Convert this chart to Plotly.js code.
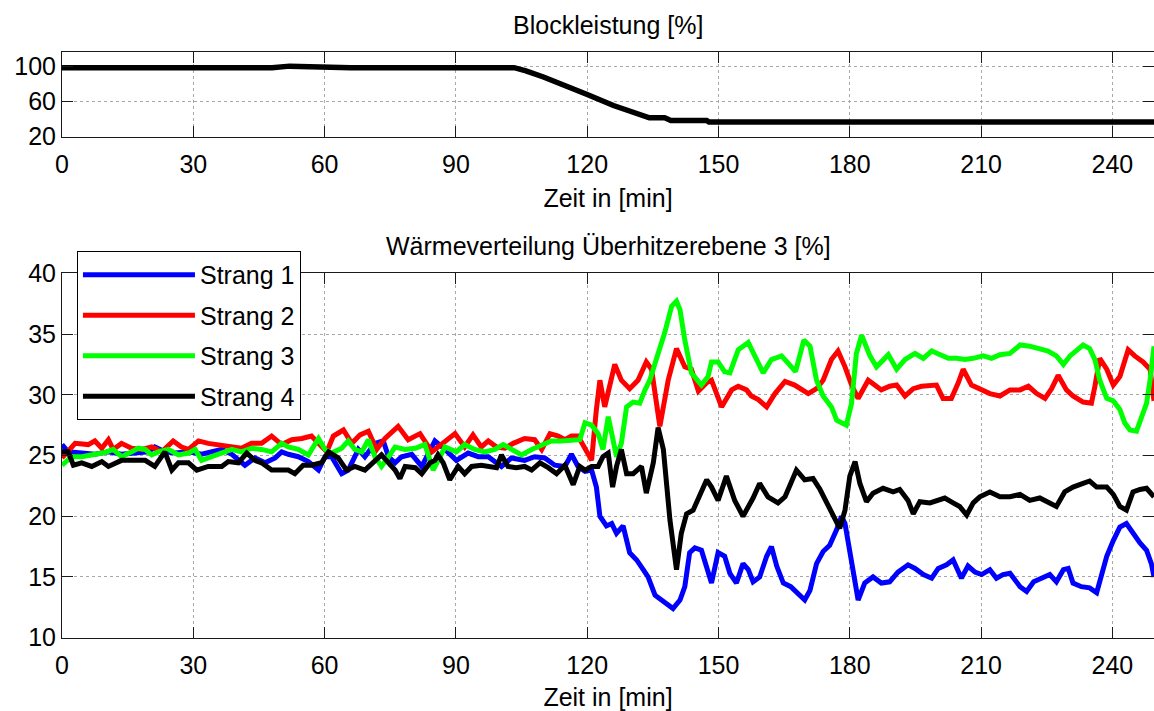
<!DOCTYPE html>
<html>
<head>
<meta charset="utf-8">
<script src="https://cdn.plot.ly/plotly-3.0.1.min.js"></script>
<style>
  html, body { margin: 0; padding: 0; background: #ffffff; }
  #chart { width: 1154px; height: 711px; }
</style>
</head>
<body>
<div id="chart"></div>
<script>
// ---------- Data ----------
const blockTime = [0, 48, 52, 56, 60, 64, 66, 103.3, 106, 110, 115, 120, 126, 130, 134.2, 137.7, 139.1, 147.3, 147.8, 249.5];
const blockLoad = [98.5, 98.5, 100.3, 100.0, 99.4, 99.2, 98.5, 98.5, 95, 88, 78.5, 68, 55.5, 48, 41.5, 41.5, 38.5, 38.5, 36.8, 36.8];

const tickTimes = [0, 30, 60, 90, 120, 150, 180, 210, 240];
const seriesNames = ['Strang 1', 'Strang 2', 'Strang 3', 'Strang 4'];

const s1Time = [0,1.4,4.5,7.5,10.6,13.6,16.7,19.7,21.2,23.5,25.8,28.9,31.9,34.2,36.5,38.8,41.8,44.1,46.4,48.7,50.2,51.7,54.0,56.3,58.6,60.1,61.6,63.9,65.4,67.7,69.2,71.5,73.4,74.6,76.1,77.6,79.9,82.2,85.2,87.5,90.1,92.8,95.1,97.4,100.4,102.7,105.7,108.0,110.3,112.6,114.9,116.4,117.9,119.5,121.0,122.1,122.9,124.4,125.6,126.7,128.2,129.7,131.3,132.8,133.9,135.5,137.0,138.5,139.6,141.2,142.3,143.4,144.6,146.1,147.3,148.4,149.9,151.4,152.6,154.1,155.6,156.8,157.9,159.4,161.0,162.1,163.3,164.8,166.5,168.6,169.7,170.9,172.4,173.9,175.4,177.0,178.1,178.9,180.0,181.2,181.9,183.4,185.3,187.2,189.1,191.0,193.3,194.9,196.8,198.7,200.2,202.1,203.6,205.5,207.0,208.6,210.1,212.0,213.5,215.0,216.6,218.9,220.4,222.0,224.2,225.7,227.2,228.8,229.9,231.0,232.9,234.8,236.4,237.5,238.7,240.2,241.7,243.2,244.7,246.3,247.8,248.9,249.5];
const s1Value = [25.9,25.3,25.2,25.1,25.3,25.1,25.2,25.3,25.7,25.3,25.2,25.3,25.1,25.3,25.5,25.1,24.2,24.8,24.4,24.8,25.3,25.1,24.9,24.5,23.8,24.9,24.9,23.5,23.8,25.5,24.9,26.0,26.2,24.9,24.4,24.9,25.1,24.1,26.2,25.5,24.6,25.2,24.9,24.9,24.1,24.8,24.6,24.9,24.8,24.2,24.1,25.1,24.1,23.7,23.8,22.4,20.0,19.2,19.4,18.6,19.2,17.0,16.4,15.6,15.0,13.5,13.1,12.8,12.4,13.1,14.2,17.0,17.4,17.2,15.6,14.5,17.0,16.7,15.3,14.5,16.1,15.6,14.6,15.0,16.7,17.5,15.9,14.5,14.2,13.5,13.1,13.9,16.1,17.1,17.6,18.9,20.0,19.4,17.2,14.5,13.1,14.5,15.0,14.5,14.6,15.4,16.0,15.7,15.2,14.9,15.7,16.0,16.4,14.9,15.9,15.4,15.2,15.6,14.9,15.2,15.3,14.2,13.8,14.6,15.0,15.2,14.6,15.6,15.7,14.5,14.2,14.1,13.7,15.0,16.7,18.0,19.1,19.4,18.6,17.8,17.2,16.1,15.0];

const s2Time = [0,3.0,6.0,7.5,9.1,10.6,11.7,13.6,15.9,18.2,20.5,22.8,25.4,27.3,28.9,31.2,33.4,35.7,38.0,41.0,43.3,45.6,47.9,50.2,52.5,54.8,57.0,58.6,60.5,62.0,64.3,66.2,68.1,70.0,71.9,73.8,76.8,79.1,81.8,84.5,86.5,89.8,92.0,93.9,95.8,97.4,99.3,101.2,103.1,105.7,108.0,109.6,111.5,113.4,114.9,116.4,117.9,119.5,121.0,122.1,122.9,124.0,126.3,127.8,129.7,131.6,133.5,134.7,136.6,138.5,140.4,142.3,143.8,145.4,147.3,148.4,150.7,153.0,154.5,156.4,157.5,159.1,161.0,162.9,165.2,167.4,169.3,170.5,172.4,173.9,175.8,177.3,178.9,180.4,181.9,183.4,184.2,185.7,187.2,189.1,190.7,192.6,194.5,196.4,198.3,199.8,201.3,203.2,204.8,205.9,207.8,209.7,212.0,214.3,216.6,218.9,220.8,222.7,224.6,226.1,227.6,229.5,231.0,233.3,235.2,236.0,237.1,238.7,240.2,241.7,243.6,245.1,247.0,248.6,249.5];
const s2Value = [24.8,26.0,25.9,26.2,25.6,26.3,25.5,26.0,25.6,25.5,25.7,25.3,26.2,25.7,25.5,26.2,26.0,25.9,25.7,25.6,26.0,26.0,26.6,25.9,26.3,26.4,26.6,26.0,25.3,26.6,27.1,26.0,26.7,27.0,25.5,26.4,27.4,26.3,26.8,25.3,25.9,26.8,25.7,26.7,25.7,26.2,25.7,25.6,26.0,26.4,26.3,25.5,26.8,26.6,26.3,26.6,26.6,25.5,24.6,28.8,31.2,29.0,32.5,31.2,30.5,31.2,32.7,32.1,27.4,31.2,33.8,32.3,32.1,30.3,31.0,31.2,29.0,30.4,30.7,30.4,29.9,29.6,29.0,30.1,31.1,30.8,30.4,30.1,30.5,31.2,32.9,33.6,32.3,30.8,29.7,30.8,31.2,30.8,30.4,30.7,30.8,29.9,30.5,30.7,30.7,30.8,29.7,29.7,31.0,32.1,30.8,30.5,30.1,29.9,30.4,30.4,30.7,30.1,29.7,30.5,31.6,30.4,29.9,29.4,29.3,30.7,33.0,32.1,30.8,31.5,33.7,33.2,32.7,32.1,29.5];

const s3Time = [0,2.2,4.5,6.8,9.8,11.7,13.6,15.9,17.4,19.0,20.5,22.0,24.3,26.6,28.9,30.4,31.9,34.2,36.5,38.8,41.0,43.3,45.6,47.9,50.2,51.7,54.0,56.3,58.6,60.1,61.6,63.9,65.4,66.9,68.5,70.0,71.5,73.0,74.6,76.1,78.4,80.7,82.9,84.8,87.5,90.1,92.0,94.3,96.6,98.9,100.8,102.7,105.0,107.3,109.6,111.8,114.1,116.4,118.3,119.5,121.0,122.5,123.6,124.8,125.9,126.7,127.8,129.0,130.5,132.0,133.2,134.3,135.5,136.6,137.7,139.3,140.4,141.2,142.3,143.8,146.1,147.6,148.4,149.9,151.4,152.6,154.5,156.8,158.7,160.2,162.1,164.4,165.9,167.6,169.5,170.9,172.4,173.9,175.8,177.0,178.1,179.2,180.4,181.5,182.7,184.6,186.1,187.2,188.8,190.7,192.6,194.9,196.8,198.7,200.6,202.5,204.4,206.3,208.2,210.5,212.4,214.3,216.6,218.9,221.1,223.4,225.3,227.2,228.8,230.3,231.8,233.3,234.8,236.0,237.1,238.7,240.2,241.7,242.8,244.0,245.5,246.6,247.8,248.6,249.5];
const s3Value = [24.2,24.9,24.9,25.05,25.25,25.5,24.9,25.3,25.6,25.5,25.05,25.3,25.5,25.05,25.2,25.5,24.6,24.9,25.2,25.5,25.3,25.6,25.5,25.3,26.0,25.7,25.5,25.05,26.4,25.5,25.2,25.6,26.2,25.5,25.3,26.3,24.9,24.1,24.9,25.7,25.5,25.6,25.9,23.8,25.7,25.3,25.9,25.5,25.3,25.5,25.9,25.5,25.05,25.5,25.9,26.2,26.2,26.2,26.3,27.7,27.5,26.8,25.5,28.2,26.0,24.9,26.0,29.0,29.4,29.3,30.4,31.2,32.6,33.7,35.1,37.3,37.7,37.0,34.5,31.8,30.8,31.5,32.7,32.7,31.9,31.8,33.7,34.3,33.0,31.8,32.9,33.2,32.6,31.9,34.5,34.0,31.2,29.9,29.0,27.9,27.7,27.5,29.3,33.4,34.9,33.2,32.3,32.7,33.3,32.1,32.9,33.4,33.0,33.6,33.3,33.0,33.0,32.9,33.0,33.2,33.0,33.3,33.4,34.1,34.0,33.8,33.6,33.2,32.5,33.2,33.7,34.1,33.8,32.9,31.2,29.7,29.5,28.8,27.7,27.1,27.0,28.2,29.3,31.2,34.0];

const s4Time = [0,1.4,2.6,4.5,6.8,9.1,10.6,13.6,16.7,19.0,21.2,23.5,25.1,26.6,28.9,30.8,33.4,36.5,38.0,40.3,42.2,44.1,45.6,47.9,50.2,51.7,53.2,55.1,57.0,59.3,60.9,63.1,65.0,66.9,69.2,71.5,73.0,74.6,76.1,77.2,78.4,80.7,82.2,84.1,85.2,85.9,87.1,88.6,90.5,92.0,93.6,95.8,97.7,99.3,100.4,101.9,103.8,105.7,107.3,109.2,111.1,113.0,114.9,116.8,118.3,119.5,121.0,122.5,123.6,124.8,125.8,126.7,127.8,129.0,130.5,132.4,133.5,135.1,136.2,137.4,138.9,140.4,141.5,142.7,144.2,145.7,147.3,148.4,149.9,151.8,153.7,155.6,157.9,159.4,161.3,163.6,165.2,166.5,167.8,169.7,171.6,173.2,174.7,176.2,177.7,178.9,180.0,181.2,182.3,183.8,185.3,187.6,189.9,191.4,193.3,194.5,196.0,198.3,199.8,201.7,203.6,205.1,206.7,208.2,209.7,212.0,214.3,216.6,218.9,221.1,223.4,225.7,227.2,229.1,231.0,233.3,234.8,236.4,238.7,240.2,241.7,243.2,244.7,246.3,247.8,249.5];
const s4Value = [25.3,25.3,24.2,24.4,24.1,24.5,24.1,24.6,24.6,24.6,24.1,25.3,23.8,24.4,24.4,23.8,24.1,24.1,24.5,24.4,25.2,24.6,24.4,23.8,23.8,23.8,23.5,24.2,24.2,24.4,25.3,24.8,23.8,24.1,23.8,24.5,25.05,24.4,23.8,23.1,24.1,24.0,23.5,24.4,24.6,25.05,24.4,23.0,24.1,23.5,24.1,24.2,24.1,24.0,25.05,24.1,24.0,24.1,23.8,24.4,24.0,23.5,24.2,22.6,24.1,23.8,24.1,24.1,24.9,25.2,22.4,24.1,25.5,23.5,23.5,24.1,21.9,24.4,27.3,25.5,19.7,15.6,18.6,20.2,20.5,21.6,23.0,22.4,21.3,23.3,21.3,20.0,21.5,22.7,21.6,21.1,21.6,22.7,23.8,23.0,23.1,22.2,21.1,20.0,19.0,20.5,23.3,24.5,22.7,21.2,21.9,22.3,22.0,22.2,21.3,20.2,21.2,21.1,21.3,21.5,21.1,20.8,20.1,21.1,21.6,22.0,21.6,21.6,21.8,21.3,21.5,21.1,20.8,22.0,22.4,22.7,22.9,22.4,22.4,21.8,20.8,20.5,22.0,22.2,22.3,21.6];

// ---------- Styling ----------
const FONT = 'Liberation Sans, Arial, Helvetica, sans-serif';
const FS = 25;
const axisColor = '#1a1a1a';
const gridColor = '#a8a8a8';

const baseX = {
  range: [0, 249.5],
  tickvals: tickTimes,
  ticks: 'inside',
  ticklen: 11,
  tickcolor: axisColor,
  tickwidth: 1,
  showline: true,
  linecolor: axisColor,
  linewidth: 1,
  mirror: 'ticks',
  showgrid: true,
  gridcolor: gridColor,
  griddash: 'dot',
  gridwidth: 1,
  zeroline: false,
  tickfont: {family: FONT, size: FS, color: '#000'},
  ticklabelstandoff: 5,
  automargin: false,
  fixedrange: true
};
const baseY = {
  ticks: 'inside',
  ticklen: 11,
  tickcolor: axisColor,
  tickwidth: 1,
  showline: true,
  linecolor: axisColor,
  linewidth: 1,
  mirror: 'ticks',
  showgrid: true,
  gridcolor: gridColor,
  griddash: 'dot',
  gridwidth: 1,
  zeroline: false,
  tickfont: {family: FONT, size: FS, color: '#000'},
  ticklabelstandoff: 0,
  automargin: false,
  fixedrange: true
};

const colors = ['#0000ff', '#ff0000', '#00ff00', '#000000'];
const times = [s1Time, s2Time, s3Time, s4Time];
const values = [s1Value, s2Value, s3Value, s4Value];

const traces = [{
  x: blockTime, y: blockLoad, xaxis: 'x', yaxis: 'y',
  mode: 'lines', line: {color: '#000', width: 5.5}, showlegend: false,
  name: 'Blockleistung', hoverinfo: 'skip'
}];
for (let i = 0; i < 4; i++) {
  traces.push({
    x: times[i], y: values[i], xaxis: 'x2', yaxis: 'y2',
    mode: 'lines', name: seriesNames[i], legendgroup: 'g' + i,
    line: {color: colors[i], width: 5, shape: 'linear'},
    hoverinfo: 'skip'
  });
}

const titleFont = {family: FONT, size: FS, color: '#000'};

const layout = {
  width: 1154, height: 711,
  margin: {l: 62, r: 0, t: 0, b: 0, pad: 0},
  paper_bgcolor: '#ffffff',
  plot_bgcolor: '#ffffff',
  font: {family: FONT, size: FS, color: '#000'},
  xaxis: Object.assign({}, baseX, {domain: [0, 1], anchor: 'y',
    title: {text: 'Zeit in [min]', font: titleFont, standoff: 12}}),
  yaxis: Object.assign({}, baseY, {domain: [0.8077, 0.9264], anchor: 'x', range: [20, 116], tickvals: [20, 60, 100]}),
  xaxis2: Object.assign({}, baseX, {domain: [0, 1], anchor: 'y2',
    title: {text: 'Zeit in [min]', font: titleFont, standoff: 15}}),
  yaxis2: Object.assign({}, baseY, {domain: [0.1031, 0.6156], anchor: 'x2', range: [10, 40], tickvals: [10, 15, 20, 25, 30, 35, 40]}),
  showlegend: true,
  legend: {
    x: 0.0137, y: 0.647, xanchor: 'left', yanchor: 'top',
    bgcolor: '#ffffff', bordercolor: '#000000', borderwidth: 1,
    font: {family: FONT, size: FS, color: '#000'},
    itemwidth: 112, traceorder: 'grouped', tracegroupgap: 5,
    entrywidth: 227, entrywidthmode: 'pixels'
  },
  annotations: [
    {text: 'Blockleistung [%]', xref: 'paper', yref: 'paper', x: 0.5, y: 1 - 33.5/711,
     xanchor: 'center', yanchor: 'bottom', showarrow: false, yshift: -7,
     font: titleFont},
    {text: 'Wärmeverteilung Überhitzerebene 3 [%]', xref: 'paper', yref: 'paper', x: 0.5, y: 1 - 255/711,
     xanchor: 'center', yanchor: 'bottom', showarrow: false, yshift: -7,
     font: titleFont}
  ]
};

Plotly.newPlot('chart', traces, layout, {displayModeBar: false, staticPlot: true});
</script>
</body>
</html>
